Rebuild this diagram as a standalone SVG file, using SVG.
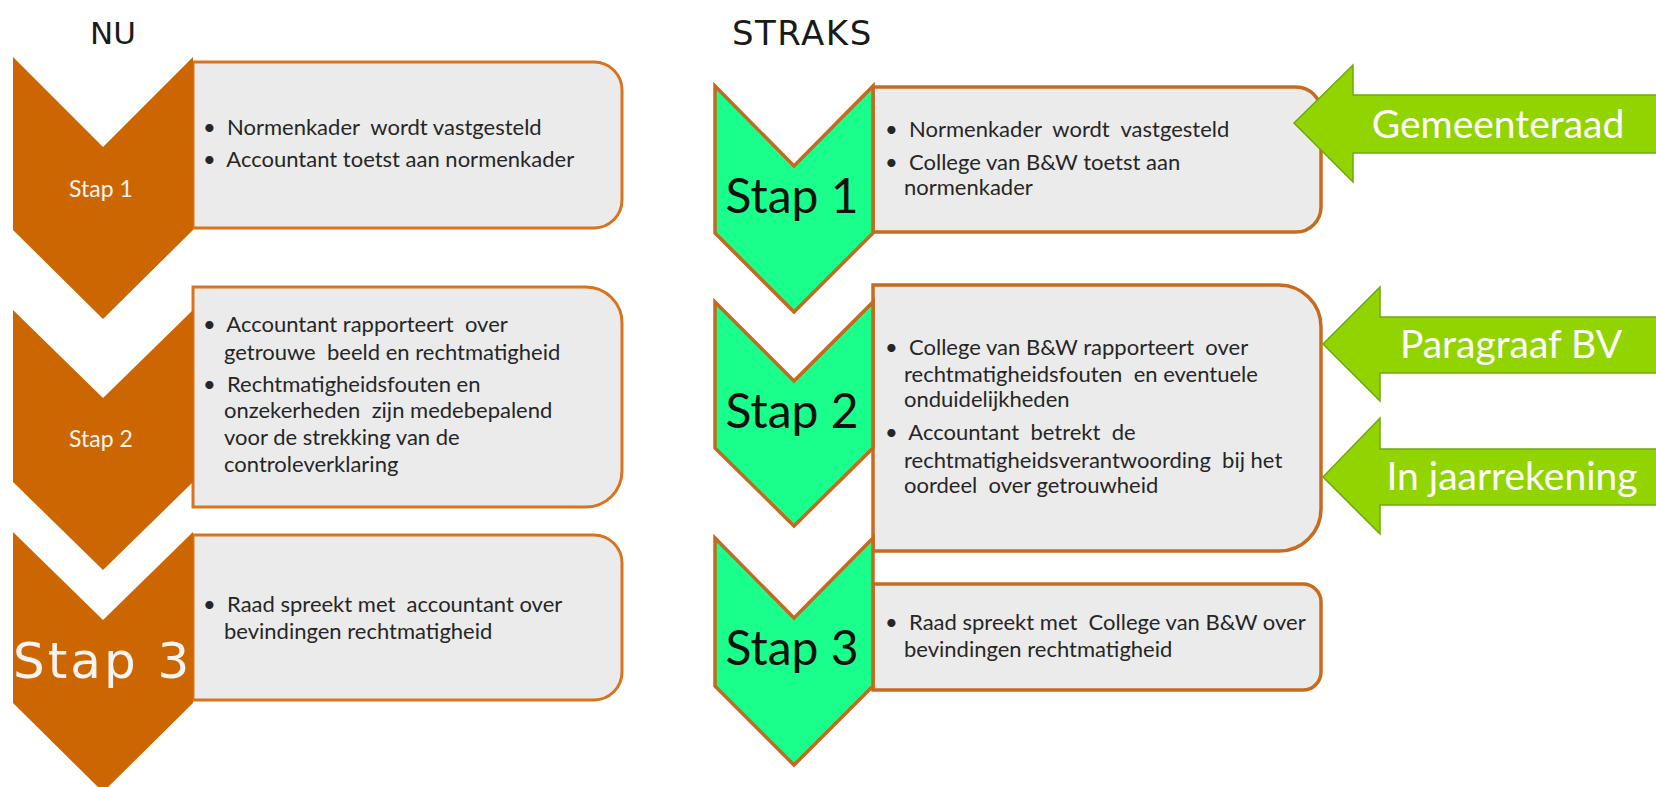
<svg xmlns="http://www.w3.org/2000/svg" width="1656" height="787" viewBox="0 0 1656 787">
<style>
.chevL{fill:#CC6600}
.chevR{fill:#1AFF8C;stroke:#C4691E;stroke-width:3.5;stroke-linejoin:miter}
.boxL{fill:#EBEBEB;stroke:#D9731F;stroke-width:3}
.boxR{fill:#EBEBEB;stroke:#C96B1E;stroke-width:3.5}
.txt{font-family:Lato,"Open Sans",sans-serif;font-size:22px;fill:#262626;white-space:pre}
.head{font-family:"DejaVu Sans",Verdana,sans-serif;font-size:31px;fill:#1a1a1a}
.stapS{font-family:Lato,"Open Sans",sans-serif;font-size:23px;fill:#F4F4F4;text-anchor:middle}
.stapBigW{font-family:"DejaVu Sans",Verdana,sans-serif;font-size:50px;fill:#F4F4F4;letter-spacing:3px}
.stapBig{font-family:Lato,"Open Sans",sans-serif;font-size:48px;fill:#111111;text-anchor:middle}
.arrow{fill:#92D400;stroke:#72A60E;stroke-width:1.5}
.lbl{font-family:Lato,"Open Sans",sans-serif;font-size:39px;fill:#FFFFFF;text-anchor:middle}
</style>

<text class="head" x="90" y="44">NU</text>
<text class="head" x="732" y="45" style="font-size:34px;letter-spacing:1.5px">STRAKS</text>

<g id="nu-stap1">
<path class="boxL" d="M193 62 H594 A28 28 0 0 1 622 90 V200 A28 28 0 0 1 594 228 H193 Z"/>
<polygon class="chevL" points="13,57 103,147 193,57 193,230 103,319 13,230"/>
<text class="stapS" x="101" y="197">Stap 1</text>
<text class="txt" x="203" y="135">•  Normenkader  wordt vastgesteld</text>
<text class="txt" x="203" y="167">•  Accountant toetst aan normenkader</text>
</g>

<g id="nu-stap2">
<path class="boxL" d="M193 287 H586 A36 36 0 0 1 622 323 V471 A36 36 0 0 1 586 507 H193 Z"/>
<polygon class="chevL" points="13,310 103,398 193,310 193,482 103,570 13,482"/>
<text class="stapS" x="101" y="447">Stap 2</text>
<text class="txt" x="203" y="332">•  Accountant rapporteert  over</text>
<text class="txt" x="224" y="360">getrouwe  beeld en rechtmatigheid</text>
<text class="txt" x="203" y="392">•  Rechtmatigheidsfouten en</text>
<text class="txt" x="224" y="418">onzekerheden  zijn medebepalend</text>
<text class="txt" x="224" y="445">voor de strekking van de</text>
<text class="txt" x="224" y="472">controleverklaring</text>
</g>

<g id="nu-stap3">
<path class="boxL" d="M193 535 H594 A28 28 0 0 1 622 563 V672 A28 28 0 0 1 594 700 H193 Z"/>
<polygon class="chevL" points="13,532 103,620 193,532 193,703 103,792 13,703"/>
<text class="stapBigW" x="13" y="678">Stap 3</text>
<text class="txt" x="203" y="612">•  Raad spreekt met  accountant over</text>
<text class="txt" x="224" y="639">bevindingen rechtmatigheid</text>
</g>

<g id="straks-stap1">
<path class="boxR" d="M873 87 H1296 A25 25 0 0 1 1321 112 V207 A25 25 0 0 1 1296 232 H873 Z"/>
<polygon class="chevR" points="715,86 794,166 873,86 873,233 794,312 715,233"/>
<text class="stapBig" x="792" y="213">Stap 1</text>
<text class="txt" x="885" y="137">•  Normenkader  wordt  vastgesteld</text>
<text class="txt" x="885" y="170">•  College van B&amp;W toetst aan</text>
<text class="txt" x="904" y="195">normenkader</text>
</g>

<g id="straks-stap2">
<path class="boxR" d="M873 285 H1279 A42 42 0 0 1 1321 327 V509 A42 42 0 0 1 1279 551 H873 Z"/>
<polygon class="chevR" points="715,302 794,381 873,302 873,448 794,526 715,448"/>
<text class="stapBig" x="792" y="428">Stap 2</text>
<text class="txt" x="885" y="355">•  College van B&amp;W rapporteert  over</text>
<text class="txt" x="904" y="382">rechtmatigheidsfouten  en eventuele</text>
<text class="txt" x="904" y="407">onduidelijkheden</text>
<text class="txt" x="885" y="440">•  Accountant  betrekt  de</text>
<text class="txt" x="904" y="468">rechtmatigheidsverantwoording  bij het</text>
<text class="txt" x="904" y="493">oordeel  over getrouwheid</text>
</g>

<g id="straks-stap3">
<path class="boxR" d="M873 584 H1303 A18 18 0 0 1 1321 602 V672 A18 18 0 0 1 1303 690 H873 Z"/>
<polygon class="chevR" points="715,538 794,618 873,538 873,686 794,765 715,686"/>
<text class="stapBig" x="792" y="665">Stap 3</text>
<text class="txt" x="885" y="630">•  Raad spreekt met  College van B&amp;W over</text>
<text class="txt" x="904" y="657">bevindingen rechtmatigheid</text>
</g>

<g id="connectors">
<g id="arrow-gemeenteraad">
<polygon class="arrow" points="1294,123 1353,65 1353,95 1662,95 1662,153 1353,153 1353,182"/>
<text class="lbl" x="1498" y="138">Gemeenteraad</text>
</g>
<g id="arrow-paragraaf">
<polygon class="arrow" points="1323,344 1380,287 1380,317 1662,317 1662,373 1380,373 1380,401"/>
<text class="lbl" x="1511" y="358">Paragraaf BV</text>
</g>
<g id="arrow-jaarrekening">
<polygon class="arrow" points="1323,477 1380,418 1380,449 1662,449 1662,505 1380,505 1380,534"/>
<text class="lbl" x="1512" y="490">In jaarrekening</text>
</g>
</g>
</svg>
